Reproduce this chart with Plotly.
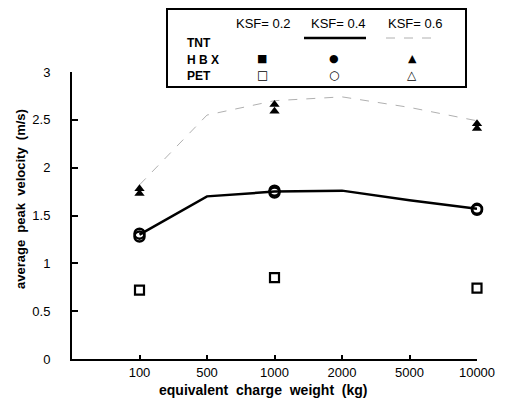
import plotly.graph_objects as go

categories = ["100", "500", "1000", "2000", "5000", "10000"]

# KSF = 0.4, TNT (solid line)
tnt_04 = [1.30, 1.70, 1.75, 1.76, 1.66, 1.57]
# KSF = 0.6, TNT (dashed grey line)
tnt_06 = [1.82, 2.55, 2.70, 2.74, 2.63, 2.49]

marker_cats = ["100", "1000", "10000"]
pet_02 = [0.72, 0.85, 0.74]
hbx_04 = [1.31, 1.76, 1.57]
pet_04 = [1.28, 1.74, 1.56]
hbx_06 = [1.78, 2.66, 2.46]
pet_06 = [1.73, 2.59, 2.41]

y_ticks = [0, 0.5, 1, 1.5, 2, 2.5, 3]
y_tick_text = ["0", "0.5", "1", "1.5", "2", "2.5", "3"]

legend_headers = ["KSF= 0.2", "KSF= 0.4", "KSF= 0.6"]
legend_rows = ["TNT", "H B X", "PET"]
hbx_syms = ["■", "●", "▲"]
pet_syms = ["□", "○", "△"]

fig = go.Figure()
fig.add_trace(go.Scatter(x=categories, y=tnt_06, mode="lines",
                         line=dict(color="#b0b0b0", width=1, dash="dash"), cliponaxis=False))
fig.add_trace(go.Scatter(x=categories, y=tnt_04, mode="lines",
                         line=dict(color="black", width=2.5), cliponaxis=False))
fig.add_trace(go.Scatter(x=marker_cats, y=pet_02, mode="markers", cliponaxis=False,
                         marker=dict(symbol="square-open", size=9, color="black", line=dict(width=2.2))))
fig.add_trace(go.Scatter(x=marker_cats, y=hbx_04, mode="markers", cliponaxis=False,
                         marker=dict(symbol="circle-open", size=10, color="black", line=dict(width=2.5))))
fig.add_trace(go.Scatter(x=marker_cats, y=pet_04, mode="markers", cliponaxis=False,
                         marker=dict(symbol="circle-open", size=10, color="black", line=dict(width=2.5))))
fig.add_trace(go.Scatter(x=marker_cats, y=hbx_06, mode="markers", cliponaxis=False,
                         marker=dict(symbol="triangle-up", size=9, color="black")))
fig.add_trace(go.Scatter(x=marker_cats, y=pet_06, mode="markers", cliponaxis=False,
                         marker=dict(symbol="triangle-up", size=9, color="black")))

font_family = "Liberation Sans, Arial, sans-serif"

L, R, T, B = 72, 37, 72, 41
PW, PH = 514 - L - R, 400 - T - B


def px_x(p):
    return (p - L) / PW


def px_y(p):
    return (400 - B - p) / PH


def note(text, x, y, size, family=font_family, xanchor="center", angle=0):
    return dict(text=text, xref="paper", yref="paper", x=px_x(x), y=px_y(y),
                xanchor=xanchor, yanchor="middle", textangle=angle, showarrow=False,
                font=dict(size=size, family=family, color="black"))


shapes = [
    dict(type="rect", xref="paper", yref="paper", x0=px_x(167), x1=px_x(466),
         y0=px_y(87), y1=px_y(9), line=dict(color="black", width=2), fillcolor="white", layer="above"),
    dict(type="line", xref="paper", yref="paper", x0=px_x(304), x1=px_x(366),
         y0=px_y(38), y1=px_y(38), line=dict(color="black", width=2.5), layer="above"),
    dict(type="line", xref="paper", yref="paper", x0=px_x(386), x1=px_x(440),
         y0=px_y(38), y1=px_y(38), line=dict(color="#b0b0b0", width=1, dash="dash"), layer="above"),
]

annotations = []
head_x = [263, 338, 415]
sym_x = [262, 334, 412]
for h, cx in zip(legend_headers, head_x):
    annotations.append(note(h, cx, 23, 13))
for lab, ry in zip(legend_rows, [43, 60, 76]):
    annotations.append(note("<b>" + lab + "</b>", 185, ry, 12, xanchor="left"))
for s, cx in zip(hbx_syms, sym_x):
    annotations.append(note(s, cx, 59, 11, family="DejaVu Sans"))
for s, cx in zip(pet_syms, sym_x):
    annotations.append(note("<b>" + s + "</b>", cx, 75, 12, family="DejaVu Sans"))

annotations.append(note("<b>average  peak  velocity  (m/s)</b>", 20, 199, 13, angle=-90))
annotations.append(note("<b>equivalent  charge  weight  (kg)</b>", 263, 390, 14))

fig.update_layout(
    width=514, height=400,
    margin=dict(l=L, r=R, t=T, b=B),
    paper_bgcolor="white", plot_bgcolor="white",
    showlegend=False,
    font=dict(family=font_family, color="black"),
    shapes=shapes, annotations=annotations,
    xaxis=dict(type="category", categoryorder="array", categoryarray=categories,
               range=[-1, 5], showgrid=False, zeroline=False,
               showline=True, linecolor="black", linewidth=2,
               ticks="inside", ticklen=4, tickwidth=2, tickcolor="black",
               tickfont=dict(size=13, family=font_family), ticklabelstandoff=0),
    yaxis=dict(range=[0, 3], tickvals=y_ticks, ticktext=y_tick_text,
               showgrid=False, zeroline=False,
               showline=True, linecolor="black", linewidth=2,
               ticks="inside", ticklen=6, tickwidth=2, tickcolor="black",
               tickfont=dict(size=13, family=font_family), ticklabelstandoff=17),
)

fig.write_html("out.html", config={"displayModeBar": False},
               post_script="document.body.style.margin='0';document.body.style.padding='0';")
